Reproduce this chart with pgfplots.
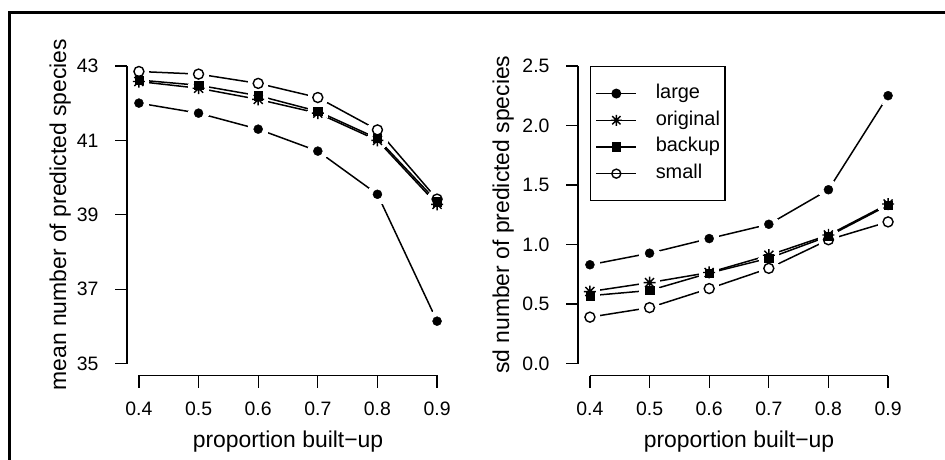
\documentclass[border=0pt]{standalone}
\usepackage{fontspec}
\setmainfont{Liberation Sans}
\usepackage{pgfplots}
\usepackage{pgfplotstable}
\pgfplotsset{compat=1.18}
\newcommand\labfont{\fontsize{23}{27}\selectfont}
\newcommand\tickfont{\fontsize{19.5}{23}\selectfont}
\pgfdeclareplotmark{Rstar}{%
 \pgfpathmoveto{\pgfqpoint{-\pgfplotmarksize}{0pt}}\pgfpathlineto{\pgfqpoint{\pgfplotmarksize}{0pt}}%
 \pgfpathmoveto{\pgfqpoint{0pt}{-\pgfplotmarksize}}\pgfpathlineto{\pgfqpoint{0pt}{\pgfplotmarksize}}%
 \pgfpathmoveto{\pgfqpoint{-0.75\pgfplotmarksize}{-0.75\pgfplotmarksize}}\pgfpathlineto{\pgfqpoint{0.75\pgfplotmarksize}{0.75\pgfplotmarksize}}%
 \pgfpathmoveto{\pgfqpoint{-0.75\pgfplotmarksize}{0.75\pgfplotmarksize}}\pgfpathlineto{\pgfqpoint{0.75\pgfplotmarksize}{-0.75\pgfplotmarksize}}%
 \pgfusepathqstroke}

% mean number of predicted species
\pgfplotstableread{
x    large  original backup small
0.4  42.00  42.58    42.62  42.85
0.5  41.73  42.40    42.48  42.78
0.6  41.30  42.10    42.20  42.53
0.7  40.71  41.73    41.78  42.15
0.8  39.55  41.00    41.05  41.28
0.9  36.14  39.28    39.35  39.42
}\meantab
% sd number of predicted species
\pgfplotstableread{
x    large  original backup small
0.4  0.830  0.605    0.570  0.39
0.5  0.927  0.680    0.614  0.47
0.6  1.050  0.765    0.760  0.63
0.7  1.170  0.910    0.885  0.80
0.8  1.460  1.080    1.070  1.04
0.9  2.250  1.340    1.330  1.19
}\sdtab

\pgfplotsset{
 Rbase/.style={
  scale only axis, width=322bp, height=321.5bp,
  xmin=0.38, xmax=0.92, xtick={0.4,0.5,0.6,0.7,0.8,0.9},
  axis line style={draw=none}, clip=false,
  xtick pos=bottom, ytick pos=left,
  tick align=outside, major tick length=12bp,
  tick style={black, line width=1.3bp},
  tick label style={font=\tickfont},
  /pgf/number format/assume math mode=true,
  xticklabel style={yshift=-11bp, /pgf/number format/.cd, fixed, precision=1, zerofill},
  yticklabel style={anchor=east, xshift=-13bp},
  xlabel={\labfont proportion built−up},
  xlabel style={at={(axis description cs:0.5,-0.224)}, anchor=base},
  legend image code/.code={\draw[mark repeat=2,mark phase=2] plot coordinates {(0bp,0bp) (20bp,0bp) (40bp,0bp)};},
 },
 Sline/.style={black, line width=1.5bp, mark=none, forget plot},
 Shalo/.style={white, only marks, forget plot, mark=*, mark size=10bp, mark options={white, draw=white, fill=white, line width=0pt}},
 Slarge/.style={black, only marks, forget plot, mark=*, mark size=4.5bp, mark options={solid, fill=black}},
 Sorig/.style={black, only marks, forget plot, mark=Rstar, mark size=6bp, mark options={solid, line width=1.4bp}},
 Sback/.style={black, only marks, forget plot, mark=square*, mark size=4.2bp, mark options={solid, fill=black}},
 Ssmall/.style={black, only marks, forget plot, mark=o, mark size=5bp, mark options={solid, line width=1.4bp}},
}
\begin{document}
\begin{tikzpicture}
\path[use as bounding box] (0bp,0bp) rectangle (945bp,460bp);
\draw[line width=3bp] (8bp,447.5bp) -- (945bp,447.5bp);
\draw[line width=2.5bp] (9.5bp,0bp) -- (9.5bp,448.5bp);

\begin{axis}[Rbase, at={(127bp,84.5bp)}, anchor=south west,
  ymin=34.68, ymax=43.32, ytick={35,37,39,41,43},
  ylabel={\labfont mean number of predicted species},
  ylabel style={at={(axis description cs:-0.1894,0.5)}, anchor=base}]
\draw[line width=1.3bp] (axis cs:0.4,34.68) -- (axis cs:0.9,34.68);
\draw[line width=1.3bp] (axis cs:0.38,35) -- (axis cs:0.38,43);
\addplot[Sline] table[x=x, y=large]{\meantab};
\addplot[Sline] table[x=x, y=original]{\meantab};
\addplot[Sline] table[x=x, y=backup]{\meantab};
\addplot[Sline] table[x=x, y=small]{\meantab};
\addplot[Shalo] table[x=x, y=large]{\meantab};
\addplot[Shalo] table[x=x, y=original]{\meantab};
\addplot[Shalo] table[x=x, y=backup]{\meantab};
\addplot[Shalo] table[x=x, y=small]{\meantab};
\addplot[Slarge] table[x=x, y=large]{\meantab};
\addplot[Sorig] table[x=x, y=original]{\meantab};
\addplot[Sback] table[x=x, y=backup]{\meantab};
\addplot[Ssmall] table[x=x, y=small]{\meantab};
\end{axis}

\begin{axis}[Rbase, at={(578bp,84.5bp)}, anchor=south west,
  ymin=-0.1, ymax=2.6, ytick={0,0.5,1,1.5,2,2.5},
  yticklabel style={/pgf/number format/.cd, fixed, precision=1, zerofill},
  ylabel={\labfont sd number of predicted species},
  ylabel style={at={(axis description cs:-0.2143,0.5)}, anchor=base},
  legend cell align=left,
  legend style={at={(axis cs:0.4,2.5)}, anchor=north west, draw=black, line width=1.3bp,
    inner xsep=5bp, inner ysep=17.5bp, font=\fontsize{20}{24}\selectfont,
    row sep=7.7bp, column sep=18.7bp,
    nodes={inner sep=0pt, text height=14.5bp, text depth=4.5bp}}]
\draw[line width=1.3bp] (axis cs:0.4,-0.1) -- (axis cs:0.9,-0.1);
\draw[line width=1.3bp] (axis cs:0.38,0) -- (axis cs:0.38,2.5);
\addplot[Sline] table[x=x, y=large]{\sdtab};
\addplot[Sline] table[x=x, y=original]{\sdtab};
\addplot[Sline] table[x=x, y=backup]{\sdtab};
\addplot[Sline] table[x=x, y=small]{\sdtab};
\addplot[Shalo] table[x=x, y=large]{\sdtab};
\addplot[Shalo] table[x=x, y=original]{\sdtab};
\addplot[Shalo] table[x=x, y=backup]{\sdtab};
\addplot[Shalo] table[x=x, y=small]{\sdtab};
\addplot[Slarge] table[x=x, y=large]{\sdtab};
\addplot[Sorig] table[x=x, y=original]{\sdtab};
\addplot[Sback] table[x=x, y=backup]{\sdtab};
\addplot[Ssmall] table[x=x, y=small]{\sdtab};
\addlegendimage{black, line width=1.5bp, mark=*, mark size=4.2bp, mark options={solid, fill=black}}
\addlegendentry{large}
\addlegendimage{black, line width=1.5bp, mark=Rstar, mark size=5.5bp, mark options={solid, line width=1.4bp}}
\addlegendentry{original}
\addlegendimage{black, line width=1.5bp, mark=square*, mark size=4bp, mark options={solid, fill=black}}
\addlegendentry{backup}
\addlegendimage{black, line width=1.5bp, mark=o, mark size=4.5bp, mark options={solid, fill=white, line width=1.4bp}}
\addlegendentry{small}
\end{axis}
\end{tikzpicture}
\end{document}
